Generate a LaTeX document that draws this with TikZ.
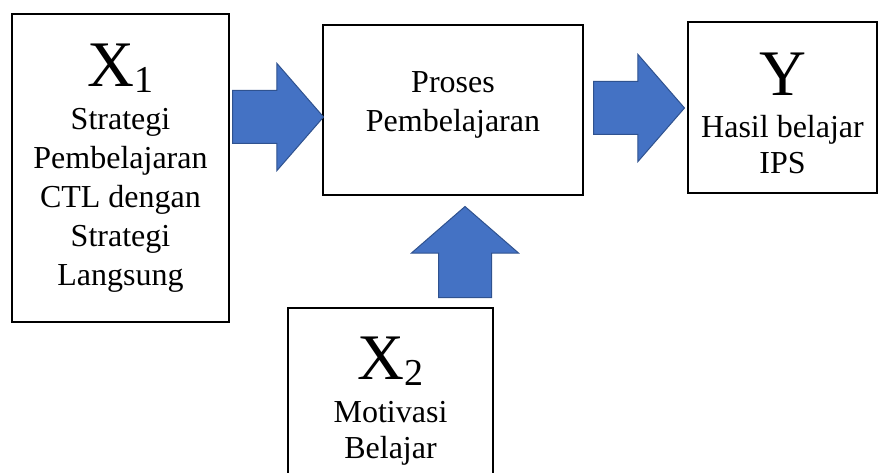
\documentclass[tikz,border=0pt]{standalone}
\usepackage{fontspec}
\setmainfont{Liberation Serif}
\usetikzlibrary{shapes.arrows}

\definecolor{arrowblue}{HTML}{4472C4}
\definecolor{arrowedge}{HTML}{2F528F}

% big variable name with a lowered index
\newcommand{\varname}[2]{\fontsize{65}{70}\selectfont #1\raisebox{-6pt}{\fontsize{38}{40}\selectfont #2}}

\begin{document}
\begin{tikzpicture}[x=1pt,y=-1pt,
  box/.style={draw, line width=2pt, align=center, inner sep=0pt, font=\fontsize{32}{39}\selectfont},
  blockarrow/.style={single arrow, draw=arrowedge, fill=arrowblue, line width=1pt,
    minimum height=91pt, minimum width=106pt, single arrow head extend=27pt,
    single arrow tip angle=98, inner xsep=0pt, inner ysep=26pt, anchor=tail}]
\useasboundingbox (0,0) rectangle (881,473);

\node[box, minimum width=217pt, minimum height=308pt] (x1) at (120.5,168)
  {{\varname{X}{1}}\\[4pt] Strategi\\Pembelajaran\\CTL dengan\\Strategi\\Langsung};
\node[box, minimum width=260pt, minimum height=170pt] (proses) at (453,110)
  {Proses\\Pembelajaran\rule[-16pt]{0pt}{0pt}};
\node[box, minimum width=189pt, minimum height=171pt] (y) at (782.5,107.5)
  {{\rule{0pt}{55pt}\varname{Y}{}}\\[3pt] Hasil belajar\\[-3pt] IPS};
\node[box, minimum width=205pt, minimum height=186pt] (x2) at (390.5,401)
  {{\varname{X}{2}}\\[4pt] Motivasi\\[-3pt] Belajar};

% block arrows, placed by their tails
\node[blockarrow] (a1) at (232,117) {};
\node[blockarrow] (a2) at (593,108) {};
\node[blockarrow, rotate=90] (a3) at (465,298) {};
\end{tikzpicture}
\end{document}
